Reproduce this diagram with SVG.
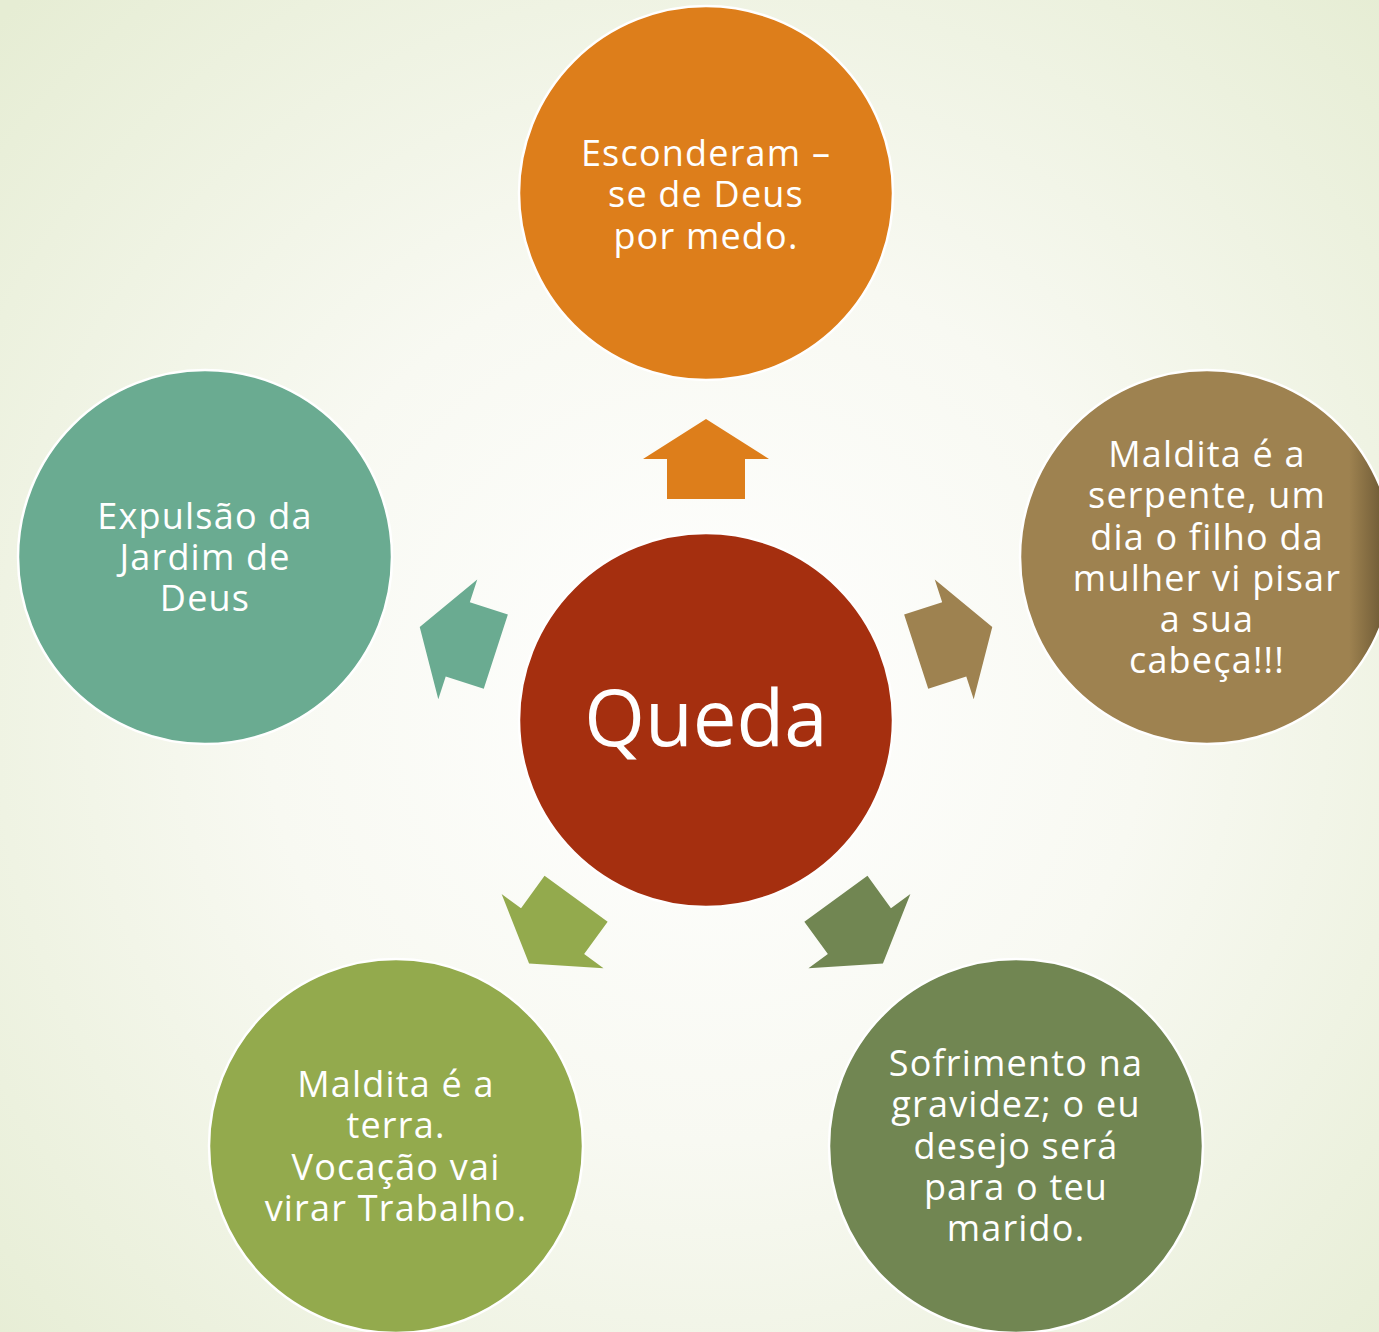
<svg xmlns="http://www.w3.org/2000/svg" width="1379" height="1332" viewBox="0 0 1379 1332">
<defs>
<radialGradient id="bg" cx="706" cy="700" r="980" gradientUnits="userSpaceOnUse">
<stop offset="0" stop-color="#ffffff"/>
<stop offset="0.45" stop-color="#f8f9f2"/>
<stop offset="1" stop-color="#e6edd4"/>
</radialGradient>
<linearGradient id="rshade" x1="0" y1="0" x2="1" y2="0">
<stop offset="0" stop-color="#9e8250"/>
<stop offset="0.88" stop-color="#9e8250"/>
<stop offset="0.97" stop-color="#6f5b36"/>
</linearGradient>
<path id="arr" d="M706 419 L769 459 L745 459 L745 499 L667 499 L667 459 L643 459 Z"/>
</defs>
<style>
.c{stroke:#ffffff;stroke-width:2.5}
.t{font-family:"Open Sans","Liberation Sans",sans-serif;font-size:36px;letter-spacing:1.2px;fill:#ffffff;text-anchor:middle}
.q{font-family:"Open Sans","Liberation Sans",sans-serif;font-size:78px;fill:#ffffff;text-anchor:middle}
</style>
<rect x="0" y="0" width="1379" height="1332" fill="url(#bg)"/>
<g id="connectors">
<use href="#arr" fill="#dd7e1b"/>
<use href="#arr" fill="#9e8250" transform="rotate(72 706 720)"/>
<use href="#arr" fill="#718652" transform="rotate(144 706 720)"/>
<use href="#arr" fill="#93aa4d" transform="rotate(216 706 720)"/>
<use href="#arr" fill="#6aab91" transform="rotate(288 706 720)"/>
</g>
<g id="center">
<circle class="c" cx="706" cy="720" r="187" fill="#a52f0f"/>
<text class="q" x="706" y="746">Queda</text>
</g>
<g id="top">
<circle class="c" cx="706" cy="193" r="187" fill="#dd7e1b"/>
<text class="t" x="706" y="166">Esconderam –</text>
<text class="t" x="706" y="207">se de Deus</text>
<text class="t" x="706" y="249">por medo.</text>
</g>
<g id="right">
<circle class="c" cx="1207" cy="557" r="187" fill="url(#rshade)"/>
<text class="t" x="1207" y="467">Maldita é a</text>
<text class="t" x="1207" y="508">serpente, um</text>
<text class="t" x="1207" y="550">dia o filho da</text>
<text class="t" x="1207" y="591">mulher vi pisar</text>
<text class="t" x="1207" y="632">a sua</text>
<text class="t" x="1207" y="673">cabeça!!!</text>
</g>
<g id="bottomright">
<circle class="c" cx="1016" cy="1146" r="187" fill="#718652"/>
<text class="t" x="1016" y="1076">Sofrimento na</text>
<text class="t" x="1016" y="1117">gravidez; o eu</text>
<text class="t" x="1016" y="1159">desejo será</text>
<text class="t" x="1016" y="1200">para o teu</text>
<text class="t" x="1016" y="1241">marido.</text>
</g>
<g id="bottomleft">
<circle class="c" cx="396" cy="1146" r="187" fill="#93aa4d"/>
<text class="t" x="396" y="1097">Maldita é a</text>
<text class="t" x="396" y="1138">terra.</text>
<text class="t" x="396" y="1180">Vocação vai</text>
<text class="t" x="396" y="1221">virar Trabalho.</text>
</g>
<g id="left">
<circle class="c" cx="205" cy="557" r="187" fill="#6aab91"/>
<text class="t" x="205" y="529">Expulsão da</text>
<text class="t" x="205" y="570">Jardim de</text>
<text class="t" x="205" y="611">Deus</text>
</g>
</svg>
